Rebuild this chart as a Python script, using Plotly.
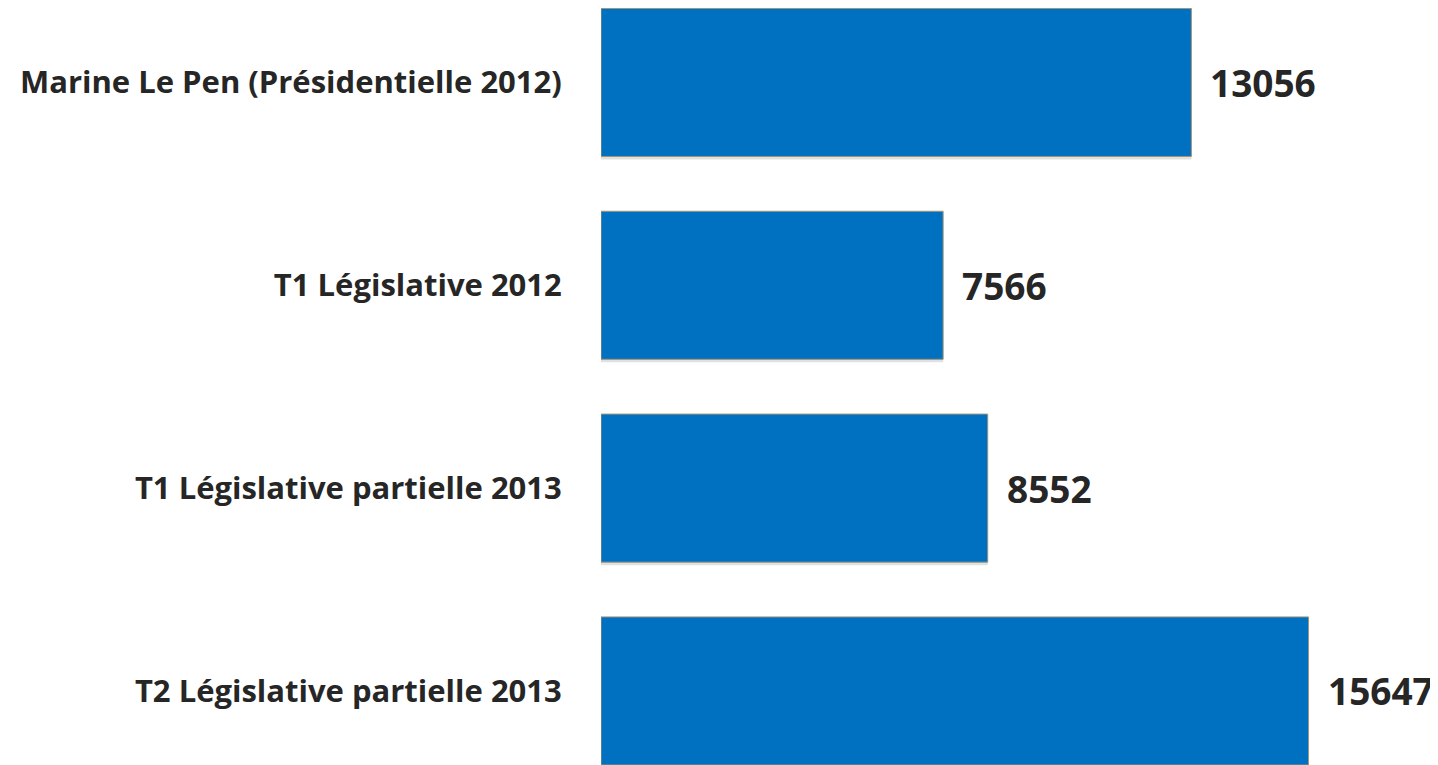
import plotly.graph_objs as go

categories = ['Marine Le Pen (Présidentielle 2012)',
              'T1 Législative 2012',
              'T1 Législative partielle 2013',
              'T2 Législative partielle 2013']
votes = [13056, 7566, 8552, 15647]

text_color = '#262626'

fig = go.Figure()

# soft shadow under each bar
fig.add_trace(go.Bar(y=categories, x=votes, orientation='h', width=0.73,
                     offset=-0.35, marker=dict(color='rgba(0,0,0,0.12)', line=dict(width=0)),
                     hoverinfo='skip', showlegend=False))

fig.add_trace(go.Bar(y=categories, x=votes, orientation='h', width=0.73,
                     marker=dict(color='#0070C0', line=dict(color='#A09478', width=1)),
                     showlegend=False))

for c, v in zip(categories, votes):
    fig.add_annotation(x=v, y=c, text='<b>%d</b>' % v, showarrow=False,
                       xanchor='left', xshift=17, yshift=0,
                       font=dict(family='Open Sans', size=37, color=text_color))

# the page body adds an 8px margin, so the figure is 8px smaller than the window
fig.update_layout(
    width=1430, height=757,
    margin=dict(l=593, r=0, t=0, b=0),
    plot_bgcolor='white', paper_bgcolor='white',
    barmode='overlay',
    xaxis=dict(range=[0, 18510], visible=False, fixedrange=True),
    yaxis=dict(categoryorder='array', categoryarray=categories,
               range=[3.365, -0.367], showgrid=False, zeroline=False,
               showline=False, ticks='outside', ticklen=32, tickcolor='white',
               tickfont=dict(family='Open Sans', size=31, color=text_color),
               tickprefix='<b>', ticksuffix='</b>'),
)

fig.write_html('out.html')
